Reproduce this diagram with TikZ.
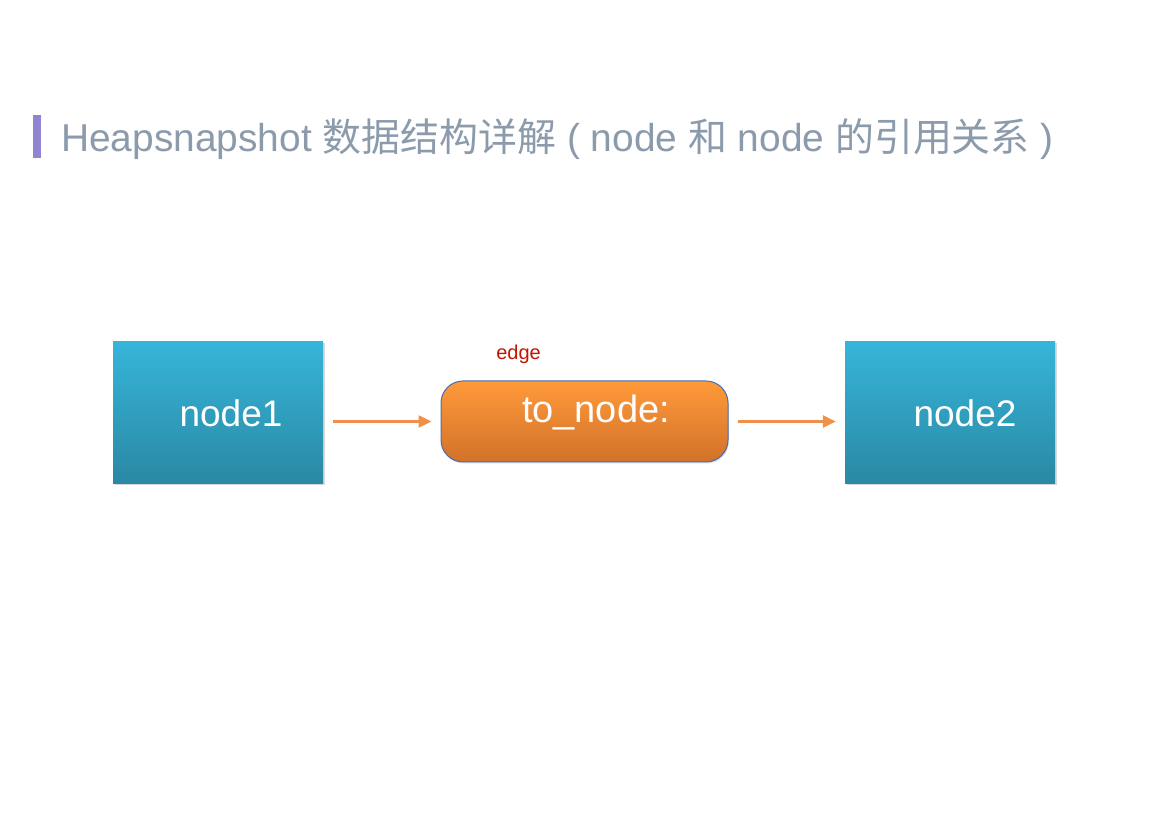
\documentclass[tikz,border=0pt]{standalone}
\usepackage{fontspec}
\setmainfont{Liberation Sans}
\newfontfamily\cjk{Noto Sans CJK SC}
\usetikzlibrary{arrows.meta,shadows}
\definecolor{titlegray}{RGB}{139,155,171}
\definecolor{barpurple}{RGB}{143,133,210}
\definecolor{bluetop}{RGB}{54,181,218}
\definecolor{bluebot}{RGB}{42,136,163}
\definecolor{orgtop}{RGB}{255,154,58}
\definecolor{orgbot}{RGB}{210,113,42}
\definecolor{orgborder}{RGB}{72,110,178}
\definecolor{arrorange}{RGB}{240,145,75}
\definecolor{edgered}{RGB}{192,22,0}
\tikzset{
  heapnode/.style={rectangle, minimum width=210pt, minimum height=142pt, inner sep=0pt,
    top color=bluetop, bottom color=bluebot, draw=none, text=white,
    font=\fontsize{37}{40}\selectfont, text height=28pt, text depth=0pt,
    drop shadow={opacity=0.3, shadow xshift=1.5pt, shadow yshift=-1.5pt, fill=gray}},
  edgebox/.style={rectangle, rounded corners=22pt, minimum width=287pt, minimum height=81pt, inner sep=0pt,
    top color=orgtop, bottom color=orgbot, draw=orgborder, line width=1pt, text=white,
    font=\fontsize{38}{40}\selectfont, text height=27pt, text depth=24pt,
    drop shadow={opacity=0.25, shadow xshift=1pt, shadow yshift=-1.5pt, fill=gray}},
  refarrow/.style={draw=arrorange, line width=2.4pt, -{Triangle[length=13pt,width=12pt]}},
}
\begin{document}
\begin{tikzpicture}[x=1pt,y=1pt]
\useasboundingbox (0,0) rectangle (1169,826);
\fill[white] (0,0) rectangle (1169,826);
% title
\fill[barpurple] (33,668) rectangle (41,711);
\node[anchor=base west, inner sep=0pt, text=titlegray, font=\fontsize{38.9}{42}\selectfont] (title) at (61,674)
  {Heapsnapshot {\cjk 数据结构详解} ( node {\cjk 和} node {\cjk 的引用关系} )};
% nodes
\node[heapnode] (n1) at (218,413) {\hspace*{26pt}node1};
\node[heapnode] (n2) at (950,413) {\hspace*{30pt}node2};
\node[edgebox] (e) at (584.5,404.5) {\hspace*{23pt}to\_node:};
\node[anchor=base, inner sep=0pt, text=edgered, font=\fontsize{20}{22}\selectfont] (elabel) at (518.5,466) {edge};
% connectors
\draw[refarrow, shorten <=10pt, shorten >=9pt] (n1.east |- e.west) -- (e.west);
\draw[refarrow, shorten <=9pt, shorten >=9pt] (e.east) -- (n2.west |- e.east);
\end{tikzpicture}
\end{document}
